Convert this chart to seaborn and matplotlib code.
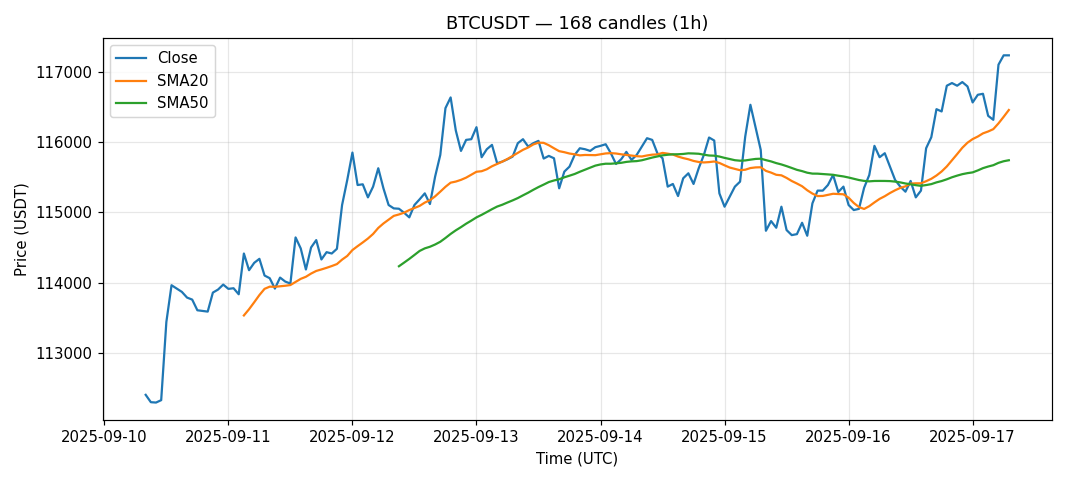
import pandas as pd
import numpy as np
import matplotlib
matplotlib.use("Agg")
import matplotlib.pyplot as plt
import matplotlib.dates as mdates
import seaborn as sns

# hourly closes, 2025-09-10 08:00 -> 2025-09-17 07:00 UTC
start = "2025-09-10 08:00"
n_candles = 168
close = [
    112400, 112295, 112290, 112324, 113438, 113962, 113914, 113867, 113786, 113757,
    113605, 113595, 113586, 113857, 113900, 113971, 113910, 113919, 113833, 114414,
    114176, 114281, 114338, 114100, 114062, 113914, 114071, 114014, 113986, 114643,
    114486, 114186, 114500, 114605, 114329, 114433, 114414, 114481, 115105, 115462,
    115852, 115390, 115400, 115214, 115367, 115629, 115343, 115105, 115057, 115052,
    114995, 114929, 115105, 115186, 115271, 115119, 115510, 115819, 116486, 116638,
    116167, 115876, 116033, 116043, 116214, 115786, 115900, 115962, 115700, 115724,
    115757, 115795, 115986, 116043, 115938, 115986, 116019, 115767, 115805, 115771,
    115343, 115581, 115652, 115819, 115914, 115900, 115876, 115929, 115948, 115971,
    115843, 115690, 115757, 115862, 115748, 115819, 115938, 116057, 116033, 115843,
    115771, 115367, 115405, 115233, 115486, 115557, 115405, 115629, 115819, 116067,
    116024, 115271, 115081, 115224, 115367, 115438, 116081, 116533, 116214, 115890,
    114738, 114876, 114781, 115081, 114748, 114676, 114690, 114852, 114667, 115129,
    115310, 115310, 115390, 115533, 115290, 115367, 115105, 115033, 115050, 115350,
    115533, 115948, 115786, 115843, 115652, 115462, 115367, 115295, 115448, 115214,
    115310, 115914, 116071, 116471, 116438, 116805, 116843, 116805, 116857, 116795,
    116567, 116676, 116690, 116376, 116319, 117105, 117238, 117238,
]

df = pd.DataFrame({
    "time": pd.date_range(start, periods=n_candles, freq="h"),
    "close": close,
})
df["sma20"] = df["close"].rolling(20).mean()
df["sma50"] = df["close"].rolling(50).mean()

fig, ax = plt.subplots(figsize=(10, 4.504), dpi=106.8)
sns.lineplot(x="time", y="close", data=df, ax=ax, label="Close", color="C0")
sns.lineplot(x="time", y="sma20", data=df.dropna(subset=["sma20"]), ax=ax, label="SMA20", color="C1")
sns.lineplot(x="time", y="sma50", data=df.dropna(subset=["sma50"]), ax=ax, label="SMA50", color="C2")

ax.set_title("BTCUSDT — 168 candles (1h)")
ax.set_xlabel("Time (UTC)")
ax.set_ylabel("Price (USDT)")
ax.grid(True, alpha=0.3)
ax.xaxis.set_major_locator(mdates.DayLocator())
ax.xaxis.set_major_formatter(mdates.DateFormatter("%Y-%m-%d"))
ax.legend(loc="upper left")

plt.subplots_adjust(left=0.096, right=0.985, top=0.921, bottom=0.127)
plt.savefig("out.png", dpi=106.8)
